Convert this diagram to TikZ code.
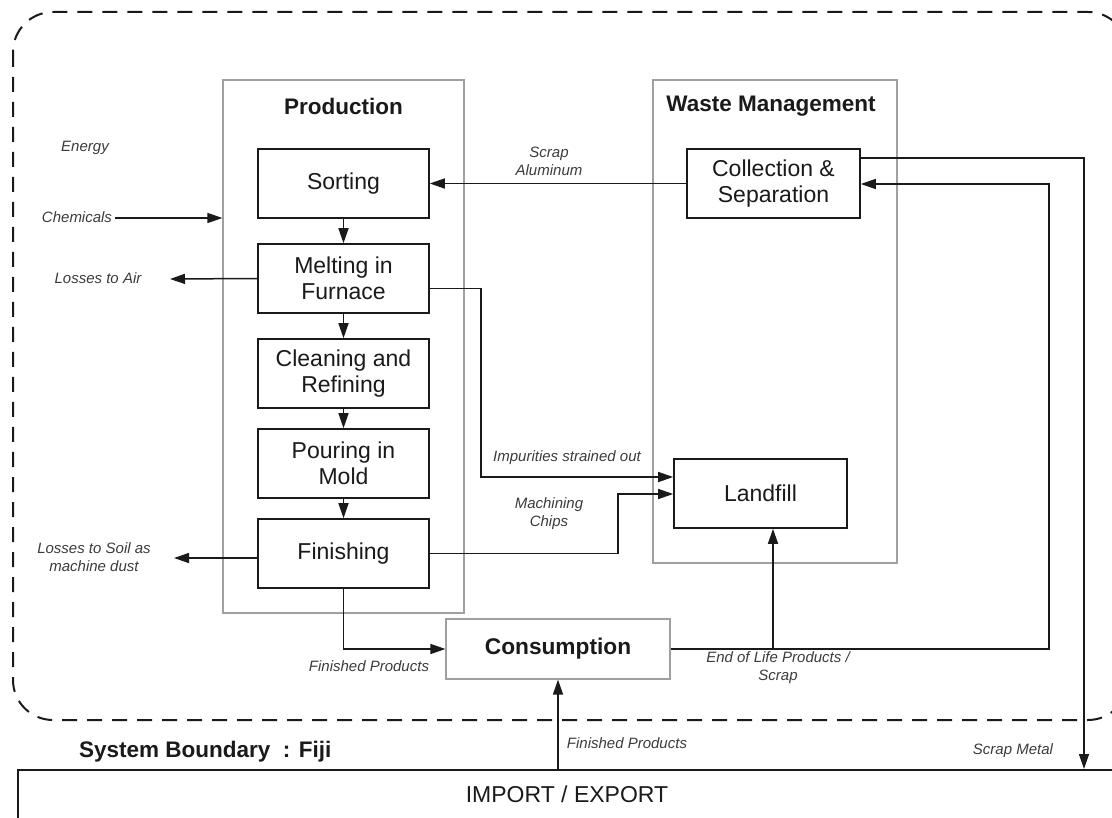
\documentclass[tikz,border=0pt]{standalone}
\usepackage{fontspec}
\setmainfont{Liberation Sans}
\usetikzlibrary{arrows.meta}
\definecolor{ink}{HTML}{1A1A1A}
\definecolor{boxgray}{HTML}{A0A0A0}
\tikzset{
  procbox/.style={draw=ink, line width=1.6pt, minimum width=171pt, minimum height=69pt, inner sep=0pt, align=center, text=ink, font=\fontsize{23}{26}\selectfont},
  groupbox/.style={draw=boxgray, line width=1.2pt, inner sep=0pt},
  heading/.style={font=\bfseries\fontsize{22.5}{26}\selectfont, text=ink},
  lbl/.style={font=\itshape\fontsize{15}{18}\selectfont, text=ink!85, align=center, inner sep=0pt},
  arr/.style={draw=ink, line width=1.5pt, -{Triangle[length=15pt,width=10pt]}}
}
\begin{document}
\begin{tikzpicture}[x=1pt,y=-1pt]
\useasboundingbox (0,0) rectangle (1112,818);
\fill[white] (0,0) rectangle (1112,818);
% system boundary
\draw[ink, line width=2pt, dash pattern=on 15pt off 10pt, rounded corners=40pt] (13,12) rectangle (1128,720);
% group boxes
\node[groupbox, minimum width=241pt, minimum height=533pt] (prod) at (343.5,346.5) {};
\node[groupbox, minimum width=244pt, minimum height=483pt] (waste) at (775,321.5) {};
\node[heading] (prodh) at (343.5,106) {Production};
\node[heading] (wasteh) at (771,106) {Waste Management};
% process boxes
\node[procbox] (sort) at (343.5,183.5) {Sorting};
\node[procbox] (melt) at (343.5,278.5) {Melting in\\Furnace};
\node[procbox] (clean) at (343.5,373.5) {Cleaning and\\Refining};
\node[procbox] (pour) at (343.5,463.5) {Pouring in\\Mold};
\node[procbox] (fin) at (343.5,553.5) {Finishing};
\node[procbox, minimum width=173pt] (coll) at (773.5,183.5) {Collection \&\\Separation};
\node[procbox, minimum width=173pt] (land) at (760.5,493.5) {Landfill};
\node[draw=boxgray, line width=1.2pt, minimum width=224pt, minimum height=60pt, inner sep=0pt, font=\bfseries\fontsize{22.7}{26}\selectfont, text=ink] (cons) at (558,649) {Consumption};
% import / export
\node[draw=ink, line width=1.6pt, minimum width=1120pt, minimum height=80pt, inner sep=0pt, anchor=north west] (imp) at (17,769) {};
\node[font=\fontsize{23}{26}\selectfont, text=ink] (impt) at (567,794) {IMPORT / EXPORT};
\node[font=\bfseries\fontsize{22.5}{26}\selectfont, text=ink, anchor=west, inner sep=0pt] (sysb) at (79,752) {System Boundary\ \ : Fiji};
% labels
\node[lbl] (energy) at (85,148) {Energy};
\node[lbl] (chem) at (77,217) {Chemicals};
\node[lbl] (air) at (98,278) {Losses to Air};
\node[lbl] (soil) at (94,557) {Losses to Soil as\\machine dust};
\node[lbl] (scrapal) at (549,161) {Scrap\\Aluminum};
\node[lbl] (impur) at (567,458) {Impurities strained out};
\node[lbl] (mach) at (549,514) {Machining\\Chips};
\node[lbl] (fp1) at (369,666) {Finished Products};
\node[lbl] (eol) at (778,668) {End of Life Products /\\Scrap};
\node[lbl] (fp2) at (627,743) {Finished Products};
\node[lbl] (smet) at (1013,751) {Scrap Metal};
% coordinates for connector ends/bends
\coordinate (airend) at (170,279);
\coordinate (soilend) at (174,558);
\coordinate (chemstart) at (115,218);
\coordinate (ix) at (481,477);
\coordinate (mx) at (618,494);
\coordinate (rx) at (1049,184);
\coordinate (sx) at (1084,158);
\coordinate (smend) at (1084,769);
\coordinate (lx) at ([xshift=12.5pt]land.south);
% connectors
\draw[arr] (sort) -- (melt);
\draw[arr] (melt) -- (clean);
\draw[arr] (clean) -- (pour);
\draw[arr] (pour) -- (fin);
\draw[arr] (chemstart) -- (chemstart -| prod.west);
\draw[arr] (melt.west) -- (airend);
\draw[arr] (fin.west |- soilend) -- (soilend);
\draw[arr] (coll.west) -- (sort.east);
\draw[arr] ([yshift=-10pt]melt.east) -| (ix) -- (ix -| land.west);
\draw[arr] (fin.east) -| (mx) -- (mx -| land.west);
\draw[arr] (fin.south) |- (cons.west);
\draw[arr] (cons.east) -| (rx) -- (rx -| coll.east);
\draw[arr] (cons.east -| lx) -- (lx);
\draw[arr] (sx -| coll.east) -- (sx) -- (smend);
\draw[arr] (cons.south |- imp.north) -- (cons.south);
\end{tikzpicture}
\end{document}
